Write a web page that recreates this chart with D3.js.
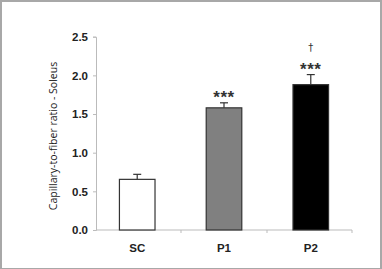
<!DOCTYPE html>
<html>
<head>
<meta charset="utf-8">
<script src="https://cdnjs.cloudflare.com/ajax/libs/d3/7.8.5/d3.min.js"></script>
<style>
  body { margin: 0; background: #fff; }
  svg { display: block; }
</style>
</head>
<body>
<script>
// data
var groups = ["SC", "P1", "P2"];
var means = [0.655, 1.58, 1.88];
var errs = [0.065, 0.065, 0.13];
var marks = ["", "***", "***"];
var daggers = ["", "", "†"];
var fills = ["#ffffff", "#808080", "#000000"];
var yTicks = [0, 0.5, 1.0, 1.5, 2.0, 2.5];

var w = 382, h = 269;
var svg = d3.select("body").append("svg").attr("width", w).attr("height", h);

// frame
svg.append("rect").attr("x", 1).attr("y", 1).attr("width", w - 2).attr("height", h - 1)
  .attr("fill", "none").attr("stroke", "#a8a8a8").attr("stroke-width", 2);

var x = d3.scaleBand().domain(groups).range([96, 352]).paddingInner(0.59).paddingOuter(0.27);
var y = d3.scaleLinear().domain([0, 2.5]).range([230, 36.7]);

// y axis
var yAxis = d3.axisLeft(y).tickValues(yTicks).tickSize(3).tickFormat(d3.format(".1f"));
var gy = svg.append("g").attr("transform", "translate(96,0)").call(yAxis);
gy.select(".domain").attr("stroke", "#bbb");
gy.selectAll(".tick line").attr("stroke", "#bbb");
gy.selectAll(".tick text").attr("x", -8)
  .attr("font-family", "Arial, Liberation Sans, sans-serif").attr("font-weight", "bold")
  .attr("font-size", "11.5px").attr("fill", "#222");

// x axis
var gx = svg.append("g").attr("transform", "translate(0,230)");
gx.append("line").attr("x1", 96).attr("x2", 352).attr("y1", 0).attr("y2", 0).attr("stroke", "#bbb");
gx.selectAll(".sep").data([181, 267, 352]).enter().append("line")
  .attr("x1", function(d){ return d; }).attr("x2", function(d){ return d; })
  .attr("y1", 0).attr("y2", 3).attr("stroke", "#bbb");
gx.selectAll("text").data(groups).enter().append("text")
  .text(function(d){ return d; })
  .attr("x", function(d){ return x(d) + x.bandwidth() / 2; })
  .attr("y", 22)
  .attr("text-anchor", "middle")
  .attr("font-family", "Arial, Liberation Sans, sans-serif").attr("font-weight", "bold")
  .attr("font-size", "11.5px").attr("fill", "#222");

// bars
svg.selectAll("rect.bar").data(groups).enter().append("rect")
  .attr("class", "bar")
  .attr("x", function(d){ return x(d); })
  .attr("y", function(d, i){ return y(means[i]); })
  .attr("width", x.bandwidth())
  .attr("height", function(d, i){ return y(0) - y(means[i]); })
  .attr("fill", function(d, i){ return fills[i]; })
  .attr("stroke", "#333").attr("stroke-width", 1.2);

// error bars
var eb = svg.selectAll("g.err").data(groups).enter().append("g").attr("class", "err");
eb.append("line")
  .attr("x1", function(d){ return x(d) + x.bandwidth() / 2; })
  .attr("x2", function(d){ return x(d) + x.bandwidth() / 2; })
  .attr("y1", function(d, i){ return y(means[i]); })
  .attr("y2", function(d, i){ return y(means[i] + errs[i]); })
  .attr("stroke", "#333").attr("stroke-width", 1.2);
eb.append("line")
  .attr("x1", function(d){ return x(d) + x.bandwidth() / 2 - 4; })
  .attr("x2", function(d){ return x(d) + x.bandwidth() / 2 + 4; })
  .attr("y1", function(d, i){ return y(means[i] + errs[i]); })
  .attr("y2", function(d, i){ return y(means[i] + errs[i]); })
  .attr("stroke", "#333").attr("stroke-width", 1.2);

// significance marks
svg.selectAll("text.sig").data(groups).enter().append("text")
  .attr("class", "sig")
  .text(function(d, i){ return marks[i]; })
  .attr("x", function(d){ return x(d) + x.bandwidth() / 2; })
  .attr("y", function(d, i){ return y(means[i] + errs[i]) + 0.5; })
  .attr("text-anchor", "middle")
  .attr("font-family", "Arial, Liberation Sans, sans-serif").attr("font-weight", "bold")
  .attr("font-size", "17px").attr("letter-spacing", "0.5px").attr("fill", "#333");
svg.selectAll("text.dag").data(groups).enter().append("text")
  .attr("class", "dag")
  .text(function(d, i){ return daggers[i]; })
  .attr("x", function(d){ return x(d) + x.bandwidth() / 2; })
  .attr("y", function(d, i){ return y(means[i] + errs[i]) - 23.5; })
  .attr("text-anchor", "middle")
  .attr("font-family", "DejaVu Sans, sans-serif")
  .attr("font-size", "10px").attr("fill", "#333");

// y label
svg.append("text")
  .text("Capillary-to-fiber ratio - Soleus")
  .attr("transform", "translate(57,136) rotate(-90)")
  .attr("text-anchor", "middle")
  .attr("font-family", "Open Sans, sans-serif")
  .attr("font-size", "10.5px").attr("fill", "#222");
</script>
</body>
</html>
